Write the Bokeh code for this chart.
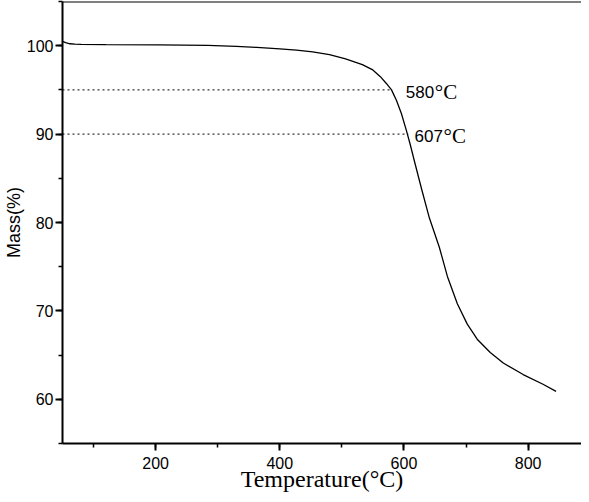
from bokeh.plotting import figure
from bokeh.models import SingleIntervalTicker, Span, Range1d
from bokeh.core.properties import value
from bokeh.embed import file_html
from bokeh.resources import INLINE

# TGA curve (temperature in °C, mass in %)
temperature = [50, 55, 62, 70, 80, 120, 205, 284, 330, 363, 400, 427, 453, 480,
               506, 533, 549, 562, 572, 580, 588, 596, 604, 610, 617, 628, 641,
               657, 670, 686, 702, 718, 739, 760, 792, 824, 845]
mass = [100.5, 100.35, 100.22, 100.17, 100.14, 100.12, 100.1, 100.03, 99.92,
        99.8, 99.65, 99.5, 99.3, 99.0, 98.5, 97.85, 97.3, 96.5, 95.7, 95.0,
        93.8, 92.3, 90.4, 88.85, 86.9, 83.9, 80.5, 77.2, 73.9, 70.8, 68.5,
        66.8, 65.3, 64.1, 62.8, 61.7, 60.9]

# marked temperatures
mark_temp = [580, 607]
mark_mass = [95, 90]
mark_text = ["580", "607"]
label_x = [603, 617]

x_start, x_end = 50, 886
y_start, y_end = 55, 105

p = figure(width=581, height=494, output_backend="svg", toolbar_location=None,
           x_range=Range1d(x_start, x_end), y_range=Range1d(y_start, y_end),
           min_border_top=1, min_border_right=0, min_border_left=3,
           min_border_bottom=0)
p.outline_line_color = None
p.xgrid.visible = False
p.ygrid.visible = False
p.background_fill_color = "white"

p.xaxis.ticker = SingleIntervalTicker(interval=200, num_minor_ticks=2)
p.yaxis.ticker = SingleIntervalTicker(interval=10, num_minor_ticks=2)

for ax in (p.xaxis, p.yaxis):
    ax.axis_line_width = 2
    ax.axis_line_color = "black"
    ax.major_tick_in = 0
    ax.major_tick_out = 7
    ax.minor_tick_in = 0
    ax.minor_tick_out = 4
    ax.major_tick_line_width = 2
    ax.minor_tick_line_width = 1.5
    ax.major_tick_line_color = "black"
    ax.minor_tick_line_color = "black"
    ax.major_label_text_font = "Liberation Sans"
    ax.major_label_text_font_size = "16px"
    ax.major_label_text_color = "black"
    ax.axis_label_text_color = "black"
    ax.axis_label_text_font_style = "normal"

p.xaxis.axis_label = "Temperature(°C)"
p.xaxis.axis_label_text_font = "Liberation Serif"
p.xaxis.axis_label_text_font_size = "24px"
p.xaxis.axis_label_standoff = -6
p.xaxis.major_label_standoff = 6

p.yaxis.axis_label = "Mass(%)"
p.yaxis.axis_label_text_font = "Liberation Sans"
p.yaxis.axis_label_text_font_size = "18px"
p.yaxis.axis_label_standoff = 0
p.yaxis.major_label_standoff = 2

p.add_layout(Span(location=y_end, dimension="width", line_color="black",
                  line_width=2))

# dotted guide lines
p.segment(x0=[x_start] * len(mark_temp), y0=mark_mass, x1=mark_temp,
          y1=mark_mass, line_color="black", line_width=1, line_dash="2 3")

p.line(temperature, mass, line_color="black", line_width=1.3)

p.text(x=label_x, y=mark_mass, text=mark_text, text_font=value("Liberation Sans"),
       text_font_size="17px", text_baseline="alphabetic", text_align="left",
       y_offset=2, text_color="black")
p.text(x=label_x, y=mark_mass, text=["°C", "°C"], text_font=value("Liberation Serif"),
       text_font_size="21px", text_baseline="alphabetic", text_align="left",
       x_offset=29, y_offset=2, text_color="black")

open("out.html", "w").write(file_html(p, INLINE))
